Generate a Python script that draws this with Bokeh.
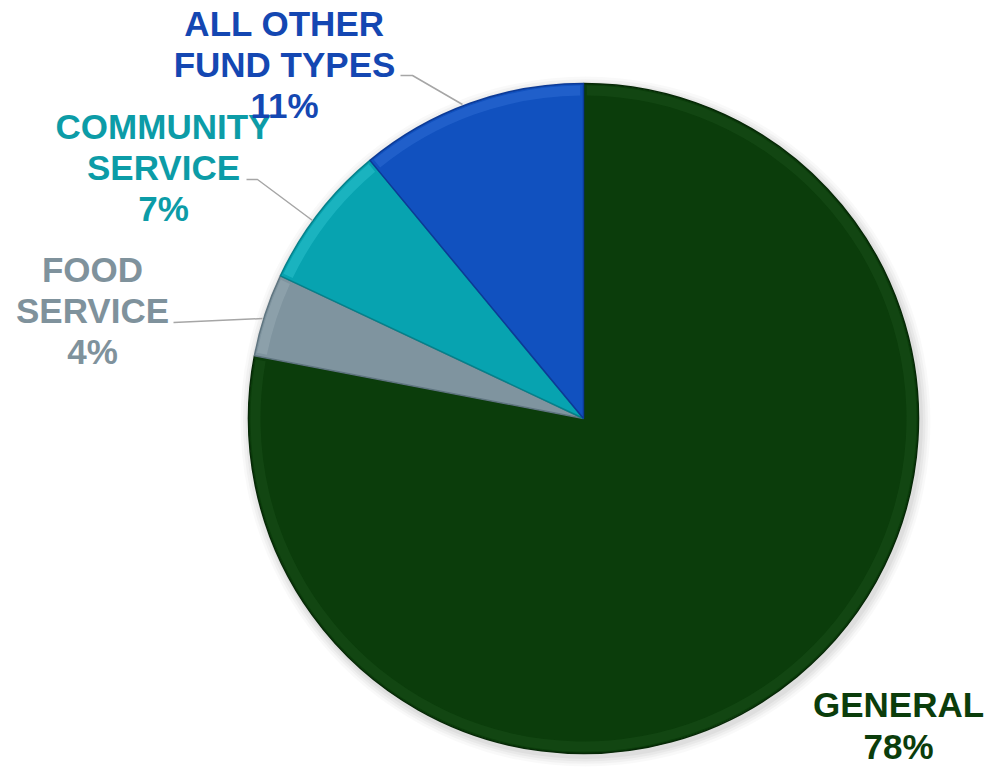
import math
from bokeh.plotting import figure
from bokeh.models import Range1d
from bokeh.core.properties import value
from bokeh.embed import file_html
from bokeh.resources import INLINE

# ---- data ----
categories = ["GENERAL", "FOOD SERVICE", "COMMUNITY SERVICE", "ALL OTHER FUND TYPES"]
label_lines = [["GENERAL"], ["FOOD", "SERVICE"], ["COMMUNITY", "SERVICE"], ["ALL OTHER", "FUND TYPES"]]
percents = [78, 4, 7, 11]
colors = ["#0b3d0b", "#7f949f", "#07a3b0", "#1151bf"]
edge_colors = ["#062806", "#5f7580", "#05808a", "#0c3a96"]
rim_colors = ["#1f5a1f", "#a5b6bf", "#3fd0dc", "#3c7ae0"]
text_colors = ["#0b3d0b", "#7f929c", "#0c9ca7", "#1447b2"]

H = 767
def Y(sy):
    return H - sy

cx, cy, R = 583, Y(418), 335

p = figure(width=992, height=767, output_backend="svg", toolbar_location=None,
           x_range=Range1d(0, 992), y_range=Range1d(0, 767), min_border=0)
p.axis.visible = False
p.grid.visible = False
p.outline_line_color = None
p.background_fill_color = "white"
p.border_fill_color = "white"

# soft shadow
for i, a in enumerate([0.025, 0.03, 0.035, 0.04]):
    p.circle(x=[cx + 2], y=[cy - 3], radius=R + 10 - i * 2.5, fill_color="#000000",
             fill_alpha=a, line_color=None)

total = sum(percents)
starts, ends = [], []
ang = math.pi / 2
for v in percents:
    starts.append(ang)
    ang -= 2 * math.pi * v / total
    ends.append(ang)

for s, e, c, ec, rc in zip(starts, ends, colors, edge_colors, rim_colors):
    p.wedge(x=[cx], y=[cy], radius=R, start_angle=[s], end_angle=[e], direction="clock",
            fill_color=c, line_color=ec, line_width=1.5)
    # rim highlight (bevel look)
    p.annular_wedge(x=[cx], y=[cy], inner_radius=R - 12, outer_radius=R - 2,
                    start_angle=[s - 0.01], end_angle=[e + 0.01], direction="clock",
                    fill_color=rc, fill_alpha=0.35, line_color=None)

# leader lines (screen coords)
leaders = [
    [(173, 322), (262, 318)],
    [(246, 179), (257, 179), (312, 220)],
    [(400, 75), (412, 75), (462, 104)],
]
for pts in leaders:
    p.line([q[0] for q in pts], [Y(q[1]) for q in pts], line_color="#a6a6a6", line_width=1.5)

# labels: centre x and first baseline (screen coords), line step
label_pos = [(898, 704), (92, 269), (163, 126), (284, 23)]
step = 41
font = value("Liberation Sans")
for lines, pct, (lx, ly), tc in zip(label_lines, percents, label_pos, text_colors):
    allines = lines + [f"{pct}%"]
    for k, t in enumerate(allines):
        yy = ly + k * (42 if lines == ["GENERAL"] else step)
        p.text(x=[lx], y=[Y(yy)], text=[t], text_font=font, text_font_size="35px",
               text_font_style="bold", text_color=tc, text_align="center",
               text_baseline="alphabetic")

open("out.html", "w").write(file_html(p, INLINE))
